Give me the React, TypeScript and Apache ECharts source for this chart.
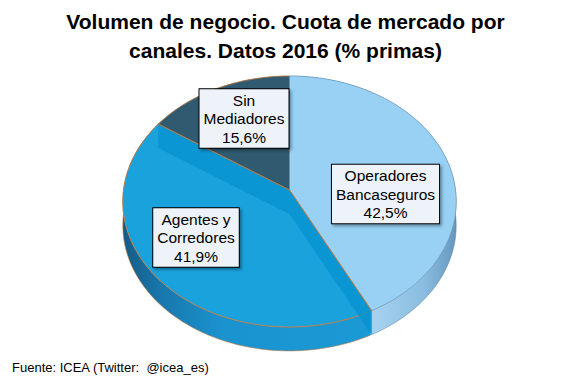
import React, { useEffect, useRef } from 'react';
import * as echarts from 'echarts';

const TITLE_LINES = ['Volumen de negocio. Cuota de mercado por', 'canales. Datos 2016 (% primas)'];
const SOURCE_TEXT = 'Fuente: ICEA (Twitter:  @icea_es)';
const categories = ['Operadores\nBancaseguros', 'Agentes y\nCorredores', 'Sin\nMediadores'];
const shares = [42.5, 41.9, 15.6];

// styles
const TOP_COLORS = ['#98d1f4', '#1aa2dd', '#2f5a70'];
const TOP_STROKES = ['rgba(110,150,185,0.7)', '#c97a3c', '#c97a3c'];
const WALL_STROKES = ['rgba(70,110,150,0.6)', 'rgba(201,122,60,0.8)', 'rgba(30,60,90,0.4)'];
const RADIAL_WALL_OPACITY = [0, 0.75, 0];
const LABEL_CENTERS = [
  [385.5, 194],
  [196, 237.5],
  [244, 118.5],
];

// 3D pie projection (perspective-tilted disc)
const CX = 289.5;
const CY = 190;
const RX = 166;
const RY = 124.4;
const K = 0.0915;
const DEPTH = 24;

function proj(phi: number, r: number, dy: number): number[] {
  const u = r * Math.sin(phi);
  const v = -r * Math.cos(phi);
  const den = 1 - K * v;
  return [CX + (RX * u) / den, CY + (RY * v) / den + dy];
}

function arc(a0: number, a1: number, dy: number): number[][] {
  const n = Math.max(6, Math.ceil(((a1 - a0) * 180) / Math.PI / 2));
  const pts: number[][] = [];
  for (let i = 0; i <= n; i++) {
    pts.push(proj(a0 + ((a1 - a0) * i) / n, 1, dy));
  }
  return pts;
}

const total = shares.reduce((a, b) => a + b, 0);
const sliceData = shares.map((v, i) => [v, shares.slice(0, i).reduce((a, b) => a + b, 0)]);

function angles(api: any) {
  const v = api.value(0);
  const s = api.value(1);
  return [(s / total) * Math.PI * 2, ((s + v) / total) * Math.PI * 2];
}

const fmt = (v: number) => v.toFixed(1).replace('.', ',') + '%';

export default function App() {
  const ref = useRef<HTMLDivElement>(null);
  useEffect(() => {
    if (!ref.current) return;
    const chart = echarts.init(ref.current, null, { renderer: 'svg' });
    const sideGradient = new echarts.graphic.LinearGradient(
      122,
      0,
      457,
      0,
      [
        { offset: 0, color: '#165a85' },
        { offset: 0.12, color: '#1878ad' },
        { offset: 0.3, color: '#1a93cf' },
        { offset: 0.74, color: '#1b9ad6' },
        { offset: 0.745, color: '#a7d3f0' },
        { offset: 0.9, color: '#8abde0' },
        { offset: 1, color: '#6597bd' },
      ],
      true
    );
    const option: any = {
      animation: false,
      backgroundColor: '#ffffff',
      series: [
        {
          type: 'custom',
          coordinateSystem: 'none',
          silent: true,
          data: sliceData,
          renderItem: (params: any, api: any) => {
            const [a0, a1] = angles(api);
            const top = arc(a0, a1, 0);
            const bot = arc(a0, a1, DEPTH).reverse();
            return {
              type: 'polygon',
              shape: { points: top.concat(bot) },
              style: { fill: sideGradient, stroke: WALL_STROKES[params.dataIndex], lineWidth: 0.7 },
            };
          },
        },
        {
          type: 'custom',
          coordinateSystem: 'none',
          silent: true,
          data: sliceData,
          renderItem: (params: any, api: any) => {
            const [a0, a1] = angles(api);
            const pts = [[CX, CY]].concat(arc(a0, a1, 0));
            const i = params.dataIndex;
            return {
              type: 'polygon',
              shape: { points: pts },
              style: { fill: TOP_COLORS[i], stroke: TOP_STROKES[i], lineWidth: 0.8 },
            };
          },
        },
        {
          type: 'custom',
          coordinateSystem: 'none',
          silent: true,
          data: sliceData,
          renderItem: (params: any, api: any) => {
            const [a0, a1] = angles(api);
            const i = params.dataIndex;
            const op = RADIAL_WALL_OPACITY[i];
            const walls = [a0, a1].map((a) => {
              const e0 = proj(a, 1, 0);
              const e1 = proj(a, 1, DEPTH);
              return {
                type: 'polygon',
                shape: { points: [[CX, CY], e0, e1, [CX, CY + DEPTH]] },
                style: { fill: '#0690cf', opacity: op },
              };
            });
            const edges = [a0, a1].map((a) => {
              const e0 = proj(a, 1, 0);
              return {
                type: 'line',
                shape: { x1: CX, y1: CY, x2: e0[0], y2: e0[1] },
                style: { stroke: '#c97a3c', lineWidth: 0.8, opacity: op > 0 ? 1 : 0 },
              };
            });
            return { type: 'group', children: [...walls, ...edges] };
          },
        },
      ],
      graphic: [
        ...TITLE_LINES.map((t, i) => ({
          type: 'text',
          x: 285.5,
          y: 21 + i * 29,
          silent: true,
          style: {
            text: t,
            font: 'bold 21px "Liberation Sans", Arial, sans-serif',
            fill: '#000',
            align: 'center',
            verticalAlign: 'middle',
          },
        })),
        ...categories.map((c, i) => ({
          type: 'text',
          x: LABEL_CENTERS[i][0],
          y: LABEL_CENTERS[i][1],
          silent: true,
          z: 10,
          style: {
            text: c + '\n' + fmt(shares[i]),
            font: '15.5px "Liberation Sans", Arial, sans-serif',
            lineHeight: 18.5,
            fill: '#000',
            align: 'center',
            verticalAlign: 'middle',
            backgroundColor: '#eef2f9',
            borderColor: '#000',
            borderWidth: 1,
            padding: [2, 4, 1, 4],
            shadowColor: 'rgba(0,0,0,0.35)',
            shadowBlur: 3,
            shadowOffsetX: 2,
            shadowOffsetY: 2,
          },
        })),
        {
          type: 'text',
          x: 12,
          y: 367,
          silent: true,
          style: {
            text: SOURCE_TEXT,
            font: '13px "Liberation Sans", Arial, sans-serif',
            fill: '#000',
            align: 'left',
            verticalAlign: 'middle',
          },
        },
      ],
    };
    chart.setOption(option);
    return () => chart.dispose();
  }, []);
  return (
    <div
      ref={ref}
      style={{ position: 'fixed', left: 0, top: 0, width: 567, height: 379 }}
    />
  );
}
